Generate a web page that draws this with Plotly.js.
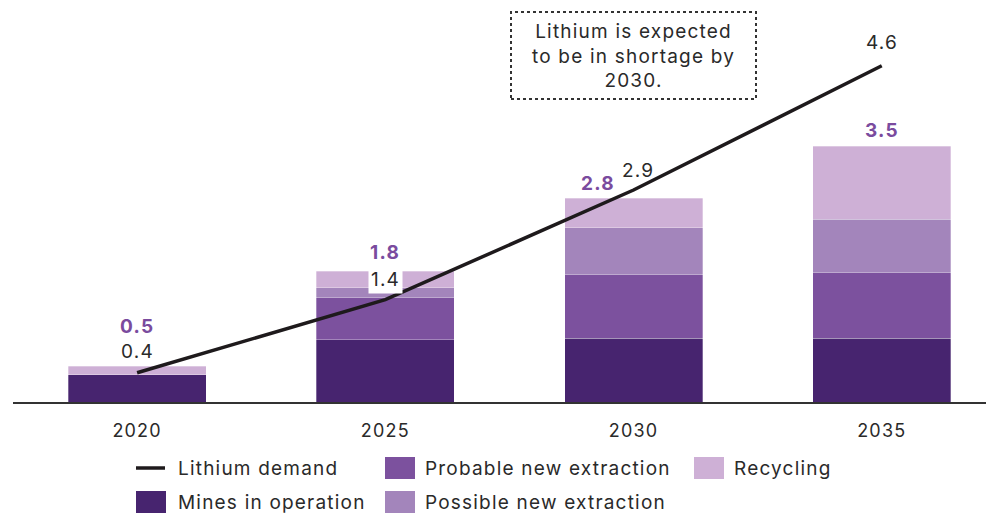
<!DOCTYPE html>
<html>
<head>
<meta charset="utf-8">
<script src="https://cdn.plot.ly/plotly-3.0.1.min.js"></script>
<style>
html,body{margin:0;padding:0;background:#fff;}
#chart{width:986px;height:515px;}
svg text{letter-spacing:1.2px;}
</style>
</head>
<body>
<div id="chart"></div>
<script>
// ---- data ----
const years = ['2020', '2025', '2030', '2035'];
const minesInOperation = [0.37, 0.85, 0.87, 0.87];
const probableNewExtraction = [0, 0.58, 0.875, 0.90];
const possibleNewExtraction = [0, 0.13, 0.64, 0.73];
const recycling = [0.12, 0.23, 0.40, 1.00];
const lithiumDemand = [0.4, 1.4, 2.9, 4.6];
const seriesNames = ['Lithium demand', 'Mines in operation', 'Probable new extraction', 'Possible new extraction', 'Recycling'];
const noteText = 'Lithium is expected<br>to be in shortage by<br>2030.';

// ---- styles ----
const FONT = 'Inter, "Liberation Sans", Arial, sans-serif';
const colors = {
  mines: '#47246f',
  probable: '#7c519e',
  possible: '#a385bb',
  recycling: '#ceb0d6',
  line: '#1e1a1c',
  total: '#7a4b9e',
  text: '#2a2a2a'
};

const W = 986, H = 515;
const margin = {l: 13, r: 0, t: 0, b: 113};
const plotW = W - margin.l - margin.r;
const plotH = H - margin.t - margin.b;
const px = x => (x - margin.l) / plotW;
const py = y => (plotH + margin.t - y) / plotH;

const barCommon = {
  type: 'bar', x: years, width: 0.556, showlegend: false, hoverinfo: 'skip',
};
const segLine = {width: 0.6, color: 'rgba(255,255,255,0.5)'};
const traces = [
  Object.assign({}, barCommon, {name: seriesNames[1], y: minesInOperation, marker: {color: colors.mines, line: segLine}}),
  Object.assign({}, barCommon, {name: seriesNames[2], y: probableNewExtraction, marker: {color: colors.probable, line: segLine}}),
  Object.assign({}, barCommon, {name: seriesNames[3], y: possibleNewExtraction, marker: {color: colors.possible, line: segLine}}),
  Object.assign({}, barCommon, {name: seriesNames[4], y: recycling, marker: {color: colors.recycling, line: segLine}}),
  {type: 'scatter', mode: 'lines', name: seriesNames[0], x: years, y: lithiumDemand,
   line: {color: colors.line, width: 3.5}, showlegend: false, hoverinfo: 'skip'}
];

const totals = years.map((_, i) => minesInOperation[i] + probableNewExtraction[i] + possibleNewExtraction[i] + recycling[i]);

const annotations = [];
// label offsets (pixel shifts)
const demandShift = [[0, 21], [0, 20], [4, 20], [0, 23]];
const totalShift = [[0, 40], [0, 19], [-36, 15], [0, 16]];
years.forEach((yr, i) => {
  annotations.push({
    x: i, y: lithiumDemand[i], xref: 'x', yref: 'y', text: lithiumDemand[i].toFixed(1),
    showarrow: false, xanchor: 'center', yanchor: 'middle',
    xshift: demandShift[i][0], yshift: demandShift[i][1],
    font: {family: FONT, size: 19, color: colors.text},
    bgcolor: i === 1 ? '#ffffff' : 'rgba(0,0,0,0)', borderpad: i === 1 ? 2 : 0
  });
  annotations.push({
    x: i, y: totals[i], xref: 'x', yref: 'y', text: '<b>' + totals[i].toFixed(1) + '</b>',
    showarrow: false, xanchor: 'center', yanchor: 'middle',
    xshift: totalShift[i][0], yshift: totalShift[i][1],
    font: {family: FONT, size: 19, color: colors.total}
  });
});

// note box text
annotations.push({
  x: px(633.5), y: py(56), xref: 'paper', yref: 'paper', text: noteText,
  xanchor: 'center', yanchor: 'middle',
  showarrow: false, align: 'center', font: {family: FONT, size: 19, color: colors.text}
});

const shapes = [
  {type: 'rect', xref: 'paper', yref: 'paper', x0: px(511), x1: px(756), y0: py(99), y1: py(12),
   line: {color: '#333333', width: 2, dash: 'dot'}, fillcolor: 'rgba(0,0,0,0)'}
];

// manual legend
const legendItems = [
  {name: seriesNames[0], kind: 'line', color: colors.line, sx: 136, tx: 176, y: 468},
  {name: seriesNames[2], kind: 'box', color: colors.probable, sx: 385, tx: 423, y: 468},
  {name: seriesNames[4], kind: 'box', color: colors.recycling, sx: 694, tx: 732, y: 468},
  {name: seriesNames[1], kind: 'box', color: colors.mines, sx: 136, tx: 176, y: 502},
  {name: seriesNames[3], kind: 'box', color: colors.possible, sx: 385, tx: 423, y: 502}
];
legendItems.forEach(it => {
  if (it.kind === 'line') {
    shapes.push({type: 'line', xref: 'paper', yref: 'paper', x0: px(it.sx), x1: px(it.sx + 29), y0: py(it.y), y1: py(it.y),
      line: {color: it.color, width: 3.5}});
  } else {
    shapes.push({type: 'rect', xref: 'paper', yref: 'paper', x0: px(it.sx), x1: px(it.sx + 30), y0: py(it.y + 11), y1: py(it.y - 11),
      line: {width: 0}, fillcolor: it.color});
  }
  annotations.push({x: px(it.tx), y: py(it.y), xref: 'paper', yref: 'paper', xanchor: 'left', yanchor: 'middle',
    text: it.name, showarrow: false, font: {family: FONT, size: 19, color: colors.text}});
});

const layout = {
  width: W, height: H, margin: margin,
  paper_bgcolor: '#ffffff', plot_bgcolor: '#ffffff',
  barmode: 'stack', showlegend: false,
  font: {family: FONT, color: colors.text},
  xaxis: {type: 'category', range: [-0.5, 3.42], showgrid: false, zeroline: false,
    showline: true, linecolor: '#333333', linewidth: 1.5, ticks: '',
    tickfont: {family: FONT, size: 18, color: colors.text}, ticklabelstandoff: 12, fixedrange: true},
  yaxis: {range: [0, 5.5], visible: false, showgrid: false, zeroline: false, fixedrange: true},
  annotations: annotations,
  shapes: shapes
};

Plotly.newPlot('chart', traces, layout, {displayModeBar: false, staticPlot: true});
</script>
</body>
</html>
